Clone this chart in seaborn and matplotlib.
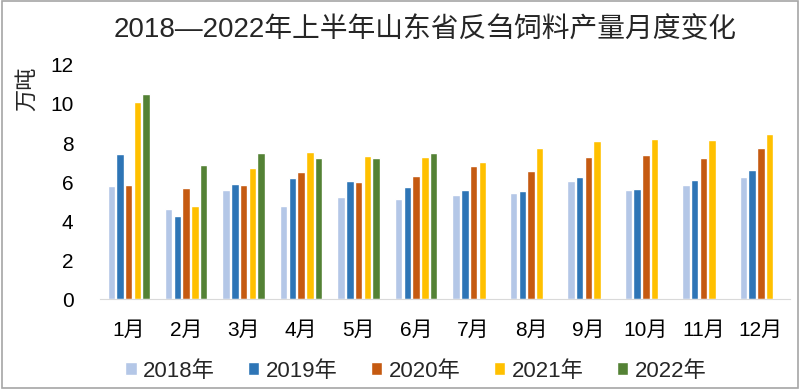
import numpy as np
import pandas as pd
import seaborn as sns
import matplotlib
matplotlib.use('Agg')
import matplotlib.pyplot as plt
from matplotlib.patches import Rectangle

# data (万吨)
months = ['1月', '2月', '3月', '4月', '5月', '6月', '7月', '8月', '9月', '10月', '11月', '12月']
years = ['2018年', '2019年', '2020年', '2021年', '2022年']
v2018 = [5.81, 4.60, 5.61, 4.75, 5.21, 5.14, 5.35, 5.42, 6.03, 5.59, 5.86, 6.27]
v2019 = [7.42, 4.27, 5.91, 6.19, 6.03, 5.74, 5.57, 5.54, 6.24, 5.64, 6.12, 6.60]
v2020 = [5.85, 5.71, 5.85, 6.53, 6.02, 6.31, 6.80, 6.58, 7.30, 7.38, 7.21, 7.73]
v2021 = [10.12, 4.79, 6.70, 7.54, 7.35, 7.27, 7.04, 7.74, 8.12, 8.19, 8.15, 8.46]
v2022 = [10.50, 6.87, 7.47, 7.23, 7.25, 7.47, np.nan, np.nan, np.nan, np.nan, np.nan, np.nan]
colors = ['#B4C7E7', '#2E75B6', '#C55A11', '#FFC000', '#548235']

rows = []
for yr, vals in zip(years, [v2018, v2019, v2020, v2021, v2022]):
    for m, v in zip(months, vals):
        rows.append({'month': m, 'year': yr, 'value': v})
df = pd.DataFrame(rows)

sns.set_style('white')
plt.rcParams['font.family'] = ['Liberation Sans', 'Noto Sans CJK SC', 'DejaVu Sans']

fig = plt.figure(figsize=(8, 3.89), dpi=100)
ax = fig.add_axes([0.125, 0.231, 0.862, 0.602])

sns.barplot(data=df, x='month', y='value', hue='year', order=months, hue_order=years,
            palette=colors, width=0.76, gap=0.15, saturation=1, ax=ax, legend=True)

ax.set_ylim(0, 12)
ax.set_yticks(range(0, 13, 2))
ax.set_xlim(-0.5, len(months) - 0.5)
ax.set_xlabel('')
ax.set_ylabel('')
for s in ['top', 'right', 'left']:
    ax.spines[s].set_visible(False)
ax.spines['bottom'].set_color('#D9D9D9')
ax.tick_params(axis='both', length=0, labelsize=15, colors='black')
ax.tick_params(axis='x', pad=16)
ax.tick_params(axis='y', pad=19)

fig.text(0.034, 0.772, '万吨', rotation=90, ha='center', va='center', fontsize=16)
fig.text(0.531, 0.923, '2018—2022年上半年山东省反刍饲料产量月度变化', ha='center', va='center', fontsize=20)

ax.legend(loc='center', bbox_to_anchor=(0.52, 0.046), bbox_transform=fig.transFigure,
          ncol=5, frameon=False, fontsize=16, handlelength=0.5, handleheight=0.5,
          handletextpad=0.3, columnspacing=1.5)

fig.patches.append(Rectangle((0.002, 0.003), 0.995, 0.994, transform=fig.transFigure,
                             fill=False, edgecolor='#A6A6A6', linewidth=1.2))

fig.savefig('out.png', dpi=100)
